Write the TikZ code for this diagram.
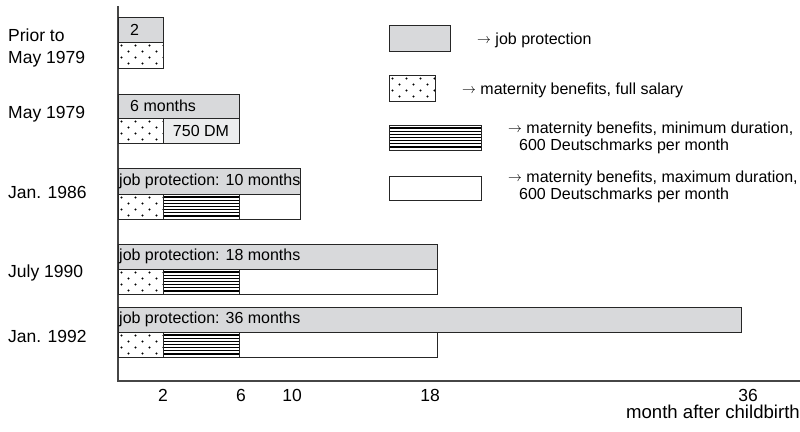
\documentclass[tikz,border=0pt]{standalone}
\usepackage{fontspec}
\setmainfont{Liberation Sans}
\usetikzlibrary{positioning}
\definecolor{jobgrey}{RGB}{216, 217, 219}
\definecolor{dmgrey}{RGB}{236, 237, 238}
\definecolor{axisgrey}{RGB}{70, 70, 70}
\newcommand{\legarrow}{\raisebox{0.04em}{\scalebox{0.8}{$\rightarrow$}}}

\tikzset{
  bar/.style={draw=black!85, line width=0.9pt, anchor=north west, minimum height=25pt, inner sep=0pt, outer sep=0pt, font=\fontsize{16}{19}\selectfont},
  jobbar/.style={bar, fill=jobgrey},
  maxbar/.style={bar, fill=white},
  fullbar/.style={bar, fill=white, path picture={
    \foreach \i in {0,...,3} \foreach \j in {0,...,6}
      \fill[black] ([xshift={(3.5+14*\j+7*mod(\i,2))*1pt}, yshift={(-3.5-6*\i)*1pt}]path picture bounding box.north west) circle[radius=1.1pt];}},
  minbar/.style={bar, fill=white, path picture={
    \foreach \k in {1,...,7}
      \draw[black, line width=1.3pt] ([yshift={-\k*3.125pt}]path picture bounding box.north west) -- ([yshift={-\k*3.125pt}]path picture bounding box.north east);}},
  bartext/.style={anchor=west, inner sep=0pt, font=\fontsize{16}{19}\selectfont},
  rowlabel/.style={anchor=base west, align=left, inner sep=0pt, font=\fontsize{17.5}{21}\selectfont},
  legtext/.style={anchor=base west, align=left, inner sep=0pt, font=\fontsize{16}{17}\selectfont},
  ticklabel/.style={anchor=base, inner sep=0pt, font=\fontsize{17.5}{19}\selectfont}
}

\begin{document}
\begin{tikzpicture}[x=1pt, y=-1pt]
  \useasboundingbox (0,0) rectangle (800,431);

  % Axes
  \coordinate (ytop) at (118,6);
  \coordinate (xend) at (800,381);
  \draw[axisgrey, line width=1.2pt] (ytop) |- (xend);

  % Row 1: prior to May 1979
  \node[rowlabel] (r1) at (8,63) {Prior to\\May 1979};
  \node[jobbar, minimum width=45pt] (jp1) at (118,17) {};
  \node[fullbar, minimum width=45pt, minimum height=26pt] (fs1) at (118,42) {};
  \node[bartext] (t1) at ([xshift=12pt]jp1.west) {2};

  % Row 2: May 1979
  \node[rowlabel] (r2) at (8,118) {May 1979};
  \node[jobbar, minimum width=121pt, minimum height=24pt] (jp2) at (118,94) {};
  \node[fullbar, minimum width=45pt] (fs2) at (118,118) {};
  \node[bar, fill=dmgrey, minimum width=76pt] (dm2) at (163,118) {750 DM};
  \node[bartext] (t2) at ([xshift=12pt]jp2.west) {6 months};

  % Row 3: Jan. 1986
  \node[rowlabel] (r3) at (8,198) {Jan. 1986};
  \node[jobbar, minimum width=182pt, minimum height=26pt] (jp3) at (118,168) {};
  \node[maxbar, minimum width=182pt] (mx3) at (118,194) {};
  \node[fullbar, minimum width=45pt] (fs3) at (118,194) {};
  \node[minbar, minimum width=76pt] (mn3) at (163,194) {};
  \node[bartext] (t3) at ([xshift=1pt]jp3.west) {job protection: 10 months};

  % Row 4: July 1990
  \node[rowlabel] (r4) at (8,277) {July 1990};
  \node[jobbar, minimum width=319pt] (jp4) at (118,244) {};
  \node[maxbar, minimum width=319pt] (mx4) at (118,269) {};
  \node[fullbar, minimum width=45pt] (fs4) at (118,269) {};
  \node[minbar, minimum width=76pt] (mn4) at (163,269) {};
  \node[bartext] (t4) at ([xshift=1pt]jp4.west) {job protection: 18 months};

  % Row 5: Jan. 1992
  \node[rowlabel] (r5) at (8,342) {Jan. 1992};
  \node[jobbar, minimum width=623pt] (jp5) at (118,307) {};
  \node[maxbar, minimum width=319pt] (mx5) at (118,332) {};
  \node[fullbar, minimum width=45pt] (fs5) at (118,332) {};
  \node[minbar, minimum width=76pt] (mn5) at (163,332) {};
  \node[bartext] (t5) at ([xshift=1pt]jp5.west) {job protection: 36 months};

  % Legend
  \node[jobbar, minimum width=61pt, minimum height=26pt] (lg1) at (389,25) {};
  \node[legtext] (lt1) at (477,44) {\legarrow\ job protection};
  \node[fullbar, minimum width=46pt, minimum height=26pt] (lg2) at (389,75) {};
  \node[legtext] (lt2) at (462,94) {\legarrow\ maternity benefits, full salary};
  \node[minbar, minimum width=92pt] (lg3) at (389,125) {};
  \node[legtext] (lt3) at (508,150) {\legarrow\ maternity benefits, minimum duration,\\\hspace*{11pt}600 Deutschmarks per month};
  \node[maxbar, minimum width=92pt, minimum height=24pt] (lg4) at (389,176) {};
  \node[legtext] (lt4) at (508,199) {\legarrow\ maternity benefits, maximum duration,\\\hspace*{11pt}600 Deutschmarks per month};

  % Month ticks
  \foreach \m/\px in {2/163, 6/241, 10/292, 18/430, 36/748}
    \node[ticklabel] (m\m) at (\px,401) {\m};
  \node[ticklabel, anchor=base east, font=\fontsize{18.6}{21}\selectfont] (xlab) at (800,418) {month after childbirth};
\end{tikzpicture}
\end{document}
